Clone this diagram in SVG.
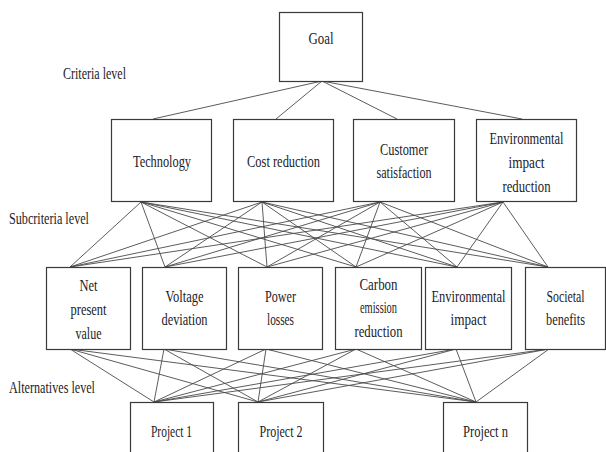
<svg xmlns="http://www.w3.org/2000/svg" width="606" height="452" viewBox="0 0 606 452">
<style>
.box{fill:#fff;stroke:#3a3a3a;stroke-width:1.2}
.lbl{font-family:"Liberation Serif","Times New Roman",serif;font-size:16px;fill:#1c1c28;text-anchor:middle}
.side{font-family:"Liberation Serif","Times New Roman",serif;font-size:16px;fill:#1c1c28}
#connectors line{stroke:#4a4a4a;stroke-width:0.9}
</style>
<rect width="606" height="452" fill="#fff"/>
<g id="connectors">
<line x1="322" y1="81" x2="153" y2="119"/>
<line x1="322" y1="81" x2="276" y2="119"/>
<line x1="322" y1="81" x2="397" y2="119"/>
<line x1="322" y1="81" x2="522" y2="119"/>
<line x1="141" y1="202" x2="70" y2="267"/>
<line x1="141" y1="202" x2="165" y2="267"/>
<line x1="141" y1="202" x2="267" y2="267"/>
<line x1="141" y1="202" x2="356" y2="267"/>
<line x1="141" y1="202" x2="457" y2="267"/>
<line x1="141" y1="202" x2="548" y2="267"/>
<line x1="262" y1="202" x2="70" y2="267"/>
<line x1="262" y1="202" x2="165" y2="267"/>
<line x1="262" y1="202" x2="267" y2="267"/>
<line x1="262" y1="202" x2="356" y2="267"/>
<line x1="262" y1="202" x2="457" y2="267"/>
<line x1="262" y1="202" x2="548" y2="267"/>
<line x1="380" y1="202" x2="70" y2="267"/>
<line x1="380" y1="202" x2="165" y2="267"/>
<line x1="380" y1="202" x2="267" y2="267"/>
<line x1="380" y1="202" x2="356" y2="267"/>
<line x1="380" y1="202" x2="457" y2="267"/>
<line x1="380" y1="202" x2="548" y2="267"/>
<line x1="503" y1="202" x2="70" y2="267"/>
<line x1="503" y1="202" x2="165" y2="267"/>
<line x1="503" y1="202" x2="267" y2="267"/>
<line x1="503" y1="202" x2="356" y2="267"/>
<line x1="503" y1="202" x2="457" y2="267"/>
<line x1="503" y1="202" x2="548" y2="267"/>
<line x1="70" y1="349" x2="154" y2="402"/>
<line x1="70" y1="349" x2="258" y2="402"/>
<line x1="70" y1="349" x2="476" y2="402"/>
<line x1="164" y1="349" x2="154" y2="402"/>
<line x1="164" y1="349" x2="258" y2="402"/>
<line x1="164" y1="349" x2="476" y2="402"/>
<line x1="266" y1="349" x2="154" y2="402"/>
<line x1="266" y1="349" x2="258" y2="402"/>
<line x1="266" y1="349" x2="476" y2="402"/>
<line x1="356" y1="349" x2="154" y2="402"/>
<line x1="356" y1="349" x2="258" y2="402"/>
<line x1="356" y1="349" x2="476" y2="402"/>
<line x1="456" y1="349" x2="154" y2="402"/>
<line x1="456" y1="349" x2="258" y2="402"/>
<line x1="456" y1="349" x2="476" y2="402"/>
<line x1="549" y1="349" x2="154" y2="402"/>
<line x1="549" y1="349" x2="258" y2="402"/>
<line x1="549" y1="349" x2="476" y2="402"/>
</g>
<g id="levels">
<text class="side" x="63" y="79" textLength="63" lengthAdjust="spacingAndGlyphs">Criteria level</text>
<text class="side" x="9" y="224" textLength="80" lengthAdjust="spacingAndGlyphs">Subcriteria level</text>
<text class="side" x="9" y="393" textLength="86" lengthAdjust="spacingAndGlyphs">Alternatives level</text>
</g>
<g id="goal">
<rect class="box" x="279.5" y="12.5" width="83" height="69"/>
<text class="lbl" x="321" y="44" textLength="25" lengthAdjust="spacingAndGlyphs">Goal</text>
</g>
<g id="technology">
<rect class="box" x="111.5" y="119.5" width="100" height="82"/>
<text class="lbl" x="162" y="167" textLength="58" lengthAdjust="spacingAndGlyphs">Technology</text>
</g>
<g id="cost-reduction">
<rect class="box" x="233.5" y="119.5" width="100" height="82"/>
<text class="lbl" x="283.5" y="167" textLength="73" lengthAdjust="spacingAndGlyphs">Cost reduction</text>
</g>
<g id="customer-satisfaction">
<rect class="box" x="353.5" y="119.5" width="101" height="82"/>
<text class="lbl" x="404" y="155" textLength="48" lengthAdjust="spacingAndGlyphs">Customer</text>
<text class="lbl" x="404" y="178" textLength="55" lengthAdjust="spacingAndGlyphs">satisfaction</text>
</g>
<g id="environmental-impact-reduction">
<rect class="box" x="476.5" y="119.5" width="100" height="82"/>
<text class="lbl" x="526.5" y="144" textLength="74" lengthAdjust="spacingAndGlyphs">Environmental</text>
<text class="lbl" x="526.5" y="168" textLength="36" lengthAdjust="spacingAndGlyphs">impact</text>
<text class="lbl" x="526.5" y="192" textLength="48" lengthAdjust="spacingAndGlyphs">reduction</text>
</g>
<g id="net-present-value">
<rect class="box" x="46.5" y="267.5" width="84" height="82"/>
<text class="lbl" x="88.5" y="291" textLength="18" lengthAdjust="spacingAndGlyphs">Net</text>
<text class="lbl" x="88.5" y="315" textLength="36" lengthAdjust="spacingAndGlyphs">present</text>
<text class="lbl" x="88.5" y="339" textLength="26" lengthAdjust="spacingAndGlyphs">value</text>
</g>
<g id="voltage-deviation">
<rect class="box" x="142.5" y="267.5" width="84" height="82"/>
<text class="lbl" x="184.5" y="302" textLength="38" lengthAdjust="spacingAndGlyphs">Voltage</text>
<text class="lbl" x="184.5" y="325" textLength="46" lengthAdjust="spacingAndGlyphs">deviation</text>
</g>
<g id="power-losses">
<rect class="box" x="238.5" y="267.5" width="84" height="82"/>
<text class="lbl" x="280.5" y="302" textLength="31" lengthAdjust="spacingAndGlyphs">Power</text>
<text class="lbl" x="280.5" y="325" textLength="27" lengthAdjust="spacingAndGlyphs">losses</text>
</g>
<g id="carbon-emission-reduction">
<rect class="box" x="335.5" y="267.5" width="86" height="82"/>
<text class="lbl" x="378.5" y="290" textLength="38" lengthAdjust="spacingAndGlyphs">Carbon</text>
<text class="lbl" x="378.5" y="313" textLength="37" lengthAdjust="spacingAndGlyphs">emission</text>
<text class="lbl" x="378.5" y="337" textLength="48" lengthAdjust="spacingAndGlyphs">reduction</text>
</g>
<g id="environmental-impact">
<rect class="box" x="425.5" y="267.5" width="86" height="82"/>
<text class="lbl" x="468.5" y="302" textLength="74" lengthAdjust="spacingAndGlyphs">Environmental</text>
<text class="lbl" x="468.5" y="325" textLength="36" lengthAdjust="spacingAndGlyphs">impact</text>
</g>
<g id="societal-benefits">
<rect class="box" x="525.5" y="267.5" width="80" height="82"/>
<text class="lbl" x="565.5" y="302" textLength="38" lengthAdjust="spacingAndGlyphs">Societal</text>
<text class="lbl" x="565.5" y="325" textLength="39" lengthAdjust="spacingAndGlyphs">benefits</text>
</g>
<g id="project-1">
<rect class="box" x="130.5" y="402.5" width="83" height="60"/>
<text class="lbl" x="171.5" y="437" textLength="41" lengthAdjust="spacingAndGlyphs">Project 1</text>
</g>
<g id="project-2">
<rect class="box" x="238.5" y="402.5" width="85" height="60"/>
<text class="lbl" x="281" y="437" textLength="43" lengthAdjust="spacingAndGlyphs">Project 2</text>
</g>
<g id="project-n">
<rect class="box" x="443.5" y="402.5" width="84" height="60"/>
<text class="lbl" x="485.5" y="437" textLength="45" lengthAdjust="spacingAndGlyphs">Project n</text>
</g>
</svg>
